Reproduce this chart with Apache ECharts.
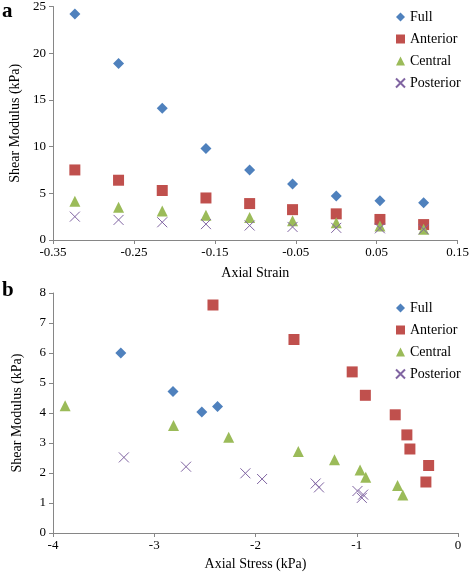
<!DOCTYPE html>
<html>
<head>
<meta charset="utf-8">
<script src="https://cdn.jsdelivr.net/npm/echarts@6/dist/echarts.min.js"></script>
<style>html,body{margin:0;padding:0;background:#fff}#c{width:472px;height:572px}</style>
</head>
<body>
<div id="c"></div>
<script>
// Panel a: shear modulus vs axial strain
const strain = [-0.323, -0.269, -0.215, -0.161, -0.107, -0.054, 0.0, 0.054, 0.108];
const fullA = [24.2, 18.9, 14.1, 9.8, 7.5, 6.0, 4.7, 4.2, 4.0];
const anteriorA = [7.5, 6.4, 5.3, 4.5, 3.9, 3.25, 2.8, 2.2, 1.65];
const centralA = [4.15, 3.5, 3.1, 2.65, 2.4, 2.05, 1.85, 1.5, 1.15];
const posteriorA = [2.5, 2.15, 1.9, 1.7, 1.55, 1.4, 1.3, 1.25, 1.15];
const strainTicks = [-0.35, -0.25, -0.15, -0.05, 0.05, 0.15];

// Panel b: shear modulus vs axial stress
const fullStress = [-3.33, -2.815, -2.53, -2.375];
const fullB = [6.0, 4.72, 4.03, 4.22];
const anteriorStress = [-2.42, -1.62, -1.045, -0.915, -0.62, -0.505, -0.475, -0.29, -0.317];
const anteriorB = [7.6, 6.45, 5.37, 4.59, 3.94, 3.27, 2.8, 2.25, 1.7];
const centralStress = [-3.88, -2.81, -2.265, -1.577, -1.22, -0.967, -0.911, -0.597, -0.545];
const centralB = [4.24, 3.58, 3.19, 2.72, 2.44, 2.1, 1.86, 1.58, 1.27];
const posteriorStress = [-3.30, -2.686, -2.1, -1.935, -1.406, -1.373, -0.993, -0.937, -0.95];
const posteriorB = [2.52, 2.21, 1.99, 1.8, 1.65, 1.52, 1.4, 1.28, 1.17];

const names = ['Full', 'Anterior', 'Central', 'Posterior'];
const colors = ['#4F81BD', '#C0504D', '#9BBB59', '#8064A2'];
const FONT = '"Liberation Serif", "DejaVu Serif", serif';
const AX = '#868686';
const crossPath = 'path://M0,0L10,10M0,10L10,0';

function zip(xs, ys) { return xs.map((x, i) => [x, ys[i]]); }

function mk(name, data, gi) {
  const base = {
    name: name, type: 'scatter', xAxisIndex: gi, yAxisIndex: gi,
    data: data, animation: false, emphasis: { disabled: true }
  };
  if (name === 'Full') { base.symbol = 'diamond'; base.symbolSize = 11; base.itemStyle = { color: colors[0], opacity: 1 }; }
  if (name === 'Anterior') { base.symbol = 'rect'; base.symbolSize = 11; base.itemStyle = { color: colors[1], opacity: 1 }; }
  if (name === 'Central') { base.symbol = 'triangle'; base.symbolSize = 11; base.itemStyle = { color: colors[2], opacity: 1 }; }
  if (name === 'Posterior') { base.symbol = crossPath; base.symbolSize = 10; base.itemStyle = { color: 'rgba(0,0,0,0)', borderColor: colors[3], borderWidth: 1, opacity: 1 }; }
  return base;
}

function axisBase() {
  return {
    axisLine: { show: true, onZero: false, lineStyle: { color: AX, width: 1 } },
    axisTick: { show: true, length: 4, lineStyle: { color: AX } },
    splitLine: { show: false },
    nameTextStyle: { color: '#000', fontFamily: FONT, fontSize: 14 }
  };
}
const lbl = (m) => ({ color: '#000', fontFamily: FONT, fontSize: 13, margin: m });

const chart = echarts.init(document.getElementById('c'), null, { renderer: 'canvas' });
chart.setOption({
  backgroundColor: '#fff',
  animation: false,
  grid: [
    { left: 53, right: 12, top: 5, height: 235 },
    { left: 53, right: 14, top: 293, height: 241 }
  ],
  xAxis: [
    Object.assign(axisBase(), {
      gridIndex: 0, type: 'value', min: -0.35, max: 0.15,
      name: 'Axial Strain', nameLocation: 'middle', nameGap: 26,
      axisTick: { show: true, length: 4, lineStyle: { color: AX }, customValues: strainTicks },
      axisLabel: Object.assign(lbl(6), { customValues: strainTicks, formatter: v => v.toFixed(2) })
    }),
    Object.assign(axisBase(), {
      gridIndex: 1, type: 'value', min: -4, max: 0, interval: 1,
      name: 'Axial Stress (kPa)', nameLocation: 'middle', nameGap: 24,
      axisLabel: lbl(6)
    })
  ],
  yAxis: [
    Object.assign(axisBase(), {
      gridIndex: 0, type: 'value', min: 0, max: 25, interval: 5,
      name: 'Shear Modulus (kPa)', nameLocation: 'middle', nameGap: 29,
      axisLabel: lbl(7)
    }),
    Object.assign(axisBase(), {
      gridIndex: 1, type: 'value', min: 0, max: 8, interval: 1,
      name: 'Shear Modulus (kPa)', nameLocation: 'middle', nameGap: 29,
      axisLabel: lbl(7)
    })
  ],
  legend: [
    { orient: 'vertical', left: 390, top: 5, itemWidth: 9, itemHeight: 9, itemGap: 8,
      textStyle: { fontFamily: FONT, fontSize: 14, color: '#000' }, data: names, selectedMode: false },
    { orient: 'vertical', left: 390, top: 296, itemWidth: 9, itemHeight: 9, itemGap: 8,
      textStyle: { fontFamily: FONT, fontSize: 14, color: '#000' }, data: names, selectedMode: false }
  ],
  graphic: [
    { type: 'text', left: 2, top: 1, style: { text: 'a', font: 'bold 21px ' + FONT, fill: '#000' } },
    { type: 'text', left: 2, top: 280, style: { text: 'b', font: 'bold 21px ' + FONT, fill: '#000' } }
  ],
  series: [
    mk('Full', zip(strain, fullA), 0),
    mk('Anterior', zip(strain, anteriorA), 0),
    mk('Central', zip(strain, centralA), 0),
    mk('Posterior', zip(strain, posteriorA), 0),
    mk('Full', zip(fullStress, fullB), 1),
    mk('Anterior', zip(anteriorStress, anteriorB), 1),
    mk('Central', zip(centralStress, centralB), 1),
    mk('Posterior', zip(posteriorStress, posteriorB), 1)
  ]
});
</script>
</body>
</html>
